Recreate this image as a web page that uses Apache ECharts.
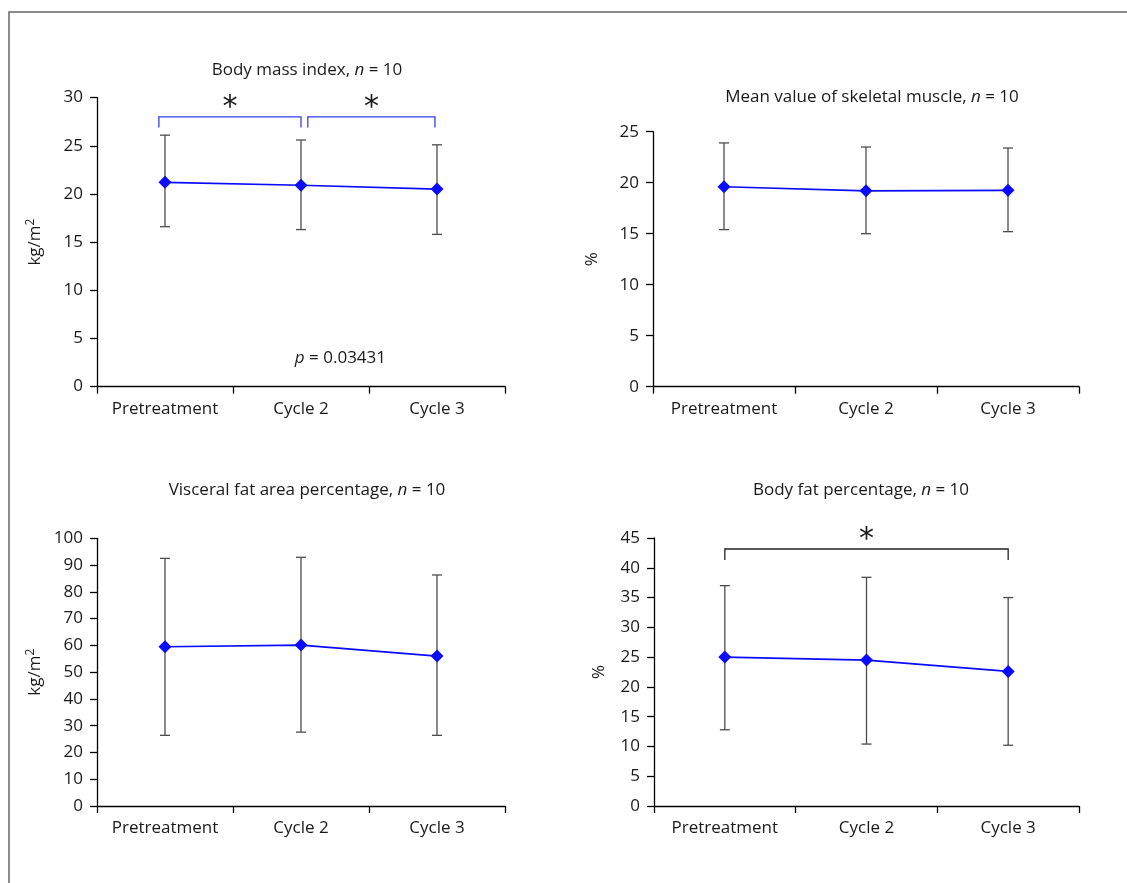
<!DOCTYPE html>
<html>
<head>
<meta charset="utf-8">
<title>Body composition</title>
<script src="https://cdn.jsdelivr.net/npm/echarts@6/dist/echarts.min.js"></script>
<style>
  html, body { margin: 0; padding: 0; background: #fff; }
  #chart { width: 1127px; height: 883px; }
</style>
</head>
<body>
<div id="chart"></div>
<script>
var categories = ['Pretreatment', 'Cycle 2', 'Cycle 3']

// mean, lower, upper of each panel
var bmiMean = [21.2, 20.9, 20.5]
var bmiLow = [16.6, 16.3, 15.8]
var bmiHigh = [26.1, 25.6, 25.1]

var muscleMean = [19.6, 19.2, 19.25]
var muscleLow = [15.4, 15.0, 15.2]
var muscleHigh = [23.9, 23.5, 23.4]

var visceralMean = [59.5, 60.1, 56.0]
var visceralLow = [26.4, 27.6, 26.4]
var visceralHigh = [92.5, 92.9, 86.3]

var fatMean = [25.0, 24.5, 22.6]
var fatLow = [12.8, 10.4, 10.2]
var fatHigh = [37.0, 38.4, 35.0]

// significance brackets: from/to in category units, top / drop in data units
var bmiBrackets = [[-0.045, 1.0, 28.0, 26.9], [1.05, 1.985, 28.0, 26.9]]
var fatBrackets = [[0, 2, 43.15, 41.3]]
var bmiP = [1.29, 3.0]

var titles = [
  'Body mass index, {i|n} = 10',
  'Mean value of skeletal muscle, {i|n} = 10',
  'Visceral fat area percentage, {i|n} = 10',
  'Body fat percentage, {i|n} = 10'
]
var yMax = [30, 25, 100, 45]
var yInterval = [5, 5, 10, 5]

var FONT = 'Open Sans'
var FS = 17
var TEXT = '#1a1a1a'
var BLUE = '#0a0aff'

var chart = echarts.init(document.getElementById('chart'))

var grids = [
  { left: 97, top: 97.6, width: 408, height: 289 },
  { left: 653, top: 131.7, width: 426, height: 255 },
  { left: 97, top: 538.3, width: 408, height: 267.7 },
  { left: 654, top: 538, width: 425, height: 268 }
]
var titlePos = [[302, 57], [867, 84], [302, 477], [856, 477]]
var yNames = ['kg/m{s|2}', '%', 'kg/m{s|2}', '%']
var yNameGap = [52, 52, 52, 46]

function xAxisOf(i) {
  return {
    gridIndex: i,
    type: 'category',
    data: categories,
    boundaryGap: true,
    axisLine: { lineStyle: { color: '#000', width: 1.3 } },
    axisTick: { show: true, interval: 0, length: 7, alignWithLabel: false, lineStyle: { color: '#000', width: 1.3 } },
    axisLabel: { interval: 0, hideOverlap: false, margin: 14, fontFamily: FONT, fontSize: FS, color: TEXT },
    splitLine: { show: false }
  }
}

function yAxisOf(i) {
  return {
    gridIndex: i,
    type: 'value',
    min: 0,
    max: yMax[i],
    interval: yInterval[i],
    name: yNames[i],
    nameLocation: 'middle',
    nameRotate: 90,
    nameGap: yNameGap[i],
    nameTextStyle: {
      fontFamily: FONT, fontSize: FS, color: TEXT,
      rich: { s: { fontFamily: FONT, fontSize: 12, color: TEXT, verticalAlign: 'top', padding: [0, 0, 8, 0] } }
    },
    axisLine: { show: true, lineStyle: { color: '#000', width: 1.3 } },
    axisTick: { show: true, length: 7, lineStyle: { color: '#000', width: 1.3 } },
    axisLabel: { margin: 14, fontFamily: FONT, fontSize: FS, color: TEXT },
    splitLine: { show: false }
  }
}

function errorSeries(i, low, high) {
  var data = low.map(function (v, k) { return [k, v, high[k]] })
  return {
    type: 'custom',
    xAxisIndex: i,
    yAxisIndex: i,
    z: 1,
    silent: true,
    data: data,
    renderItem: function (params, api) {
      var lo = api.coord([api.value(0), api.value(1)])
      var hi = api.coord([api.value(0), api.value(2)])
      var hw = 5
      var st = { stroke: '#4d4d4d', lineWidth: 1.3 }
      return {
        type: 'group',
        children: [
          { type: 'line', shape: { x1: hi[0], y1: hi[1], x2: lo[0], y2: lo[1] }, style: st },
          { type: 'line', shape: { x1: hi[0] - hw, y1: hi[1], x2: hi[0] + hw, y2: hi[1] }, style: st },
          { type: 'line', shape: { x1: lo[0] - hw, y1: lo[1], x2: lo[0] + hw, y2: lo[1] }, style: st }
        ]
      }
    }
  }
}

function lineSeries(i, mean) {
  return {
    type: 'line',
    xAxisIndex: i,
    yAxisIndex: i,
    z: 3,
    data: mean,
    symbol: 'diamond',
    symbolSize: 13,
    itemStyle: { color: BLUE },
    lineStyle: { color: BLUE, width: 1.6 },
    silent: true,
    animation: false
  }
}

function bracketSeries(i, brackets, color) {
  return {
    type: 'custom',
    xAxisIndex: i,
    yAxisIndex: i,
    z: 2,
    silent: true,
    data: brackets,
    renderItem: function (params, api) {
      var band = api.size([1, 0])[0]
      var base = api.coord([0, 0])[0]
      var x1 = base + api.value(0) * band
      var x2 = base + api.value(1) * band
      var yt = api.coord([0, api.value(2)])[1]
      var yd = api.coord([0, api.value(3)])[1]
      return {
        type: 'group',
        children: [
          {
            type: 'polyline',
            shape: { points: [[x1, yd], [x1, yt], [x2, yt], [x2, yd]] },
            style: { stroke: color, lineWidth: 1.3, fill: null }
          },
          {
            type: 'text',
            style: {
              x: (x1 + x2) / 2, y: yt - 9, text: '*',
              font: '30px "DejaVu Sans"', fill: TEXT,
              align: 'center', verticalAlign: 'middle'
            }
          }
        ]
      }
    }
  }
}

function pSeries(i, pos) {
  return {
    type: 'custom',
    xAxisIndex: i,
    yAxisIndex: i,
    silent: true,
    data: [pos],
    renderItem: function (params, api) {
      var band = api.size([1, 0])[0]
      var base = api.coord([0, 0])[0]
      var y = api.coord([0, api.value(1)])[1]
      return {
        type: 'text',
        style: {
          x: base + api.value(0) * band, y: y,
          text: '{i|p} = 0.03431',
          align: 'center', verticalAlign: 'middle',
          fontFamily: FONT, fontSize: FS, fill: TEXT,
          rich: { i: { fontStyle: 'italic', fontFamily: FONT, fontSize: FS, fill: TEXT } }
        }
      }
    }
  }
}

chart.setOption({
  backgroundColor: '#fff',
  animation: false,
  title: titles.map(function (t, i) {
    return {
      text: t,
      left: titlePos[i][0],
      top: titlePos[i][1],
      textAlign: 'center',
      textStyle: {
        fontFamily: FONT, fontSize: FS, fontWeight: 'normal', color: TEXT,
        rich: { i: { fontFamily: FONT, fontSize: FS, fontStyle: 'italic', color: TEXT } }
      }
    }
  }),
  grid: grids,
  xAxis: [0, 1, 2, 3].map(xAxisOf),
  yAxis: [0, 1, 2, 3].map(yAxisOf),
  graphic: [{
    type: 'rect',
    shape: { x: 9, y: 12, width: 1300, height: 1000 },
    style: { fill: null, stroke: '#666', lineWidth: 1.5 },
    silent: true
  }],
  series: [
    errorSeries(0, bmiLow, bmiHigh),
    lineSeries(0, bmiMean),
    bracketSeries(0, bmiBrackets, '#3040f5'),
    pSeries(0, bmiP),
    errorSeries(1, muscleLow, muscleHigh),
    lineSeries(1, muscleMean),
    errorSeries(2, visceralLow, visceralHigh),
    lineSeries(2, visceralMean),
    errorSeries(3, fatLow, fatHigh),
    lineSeries(3, fatMean),
    bracketSeries(3, fatBrackets, '#222')
  ]
})
</script>
</body>
</html>
